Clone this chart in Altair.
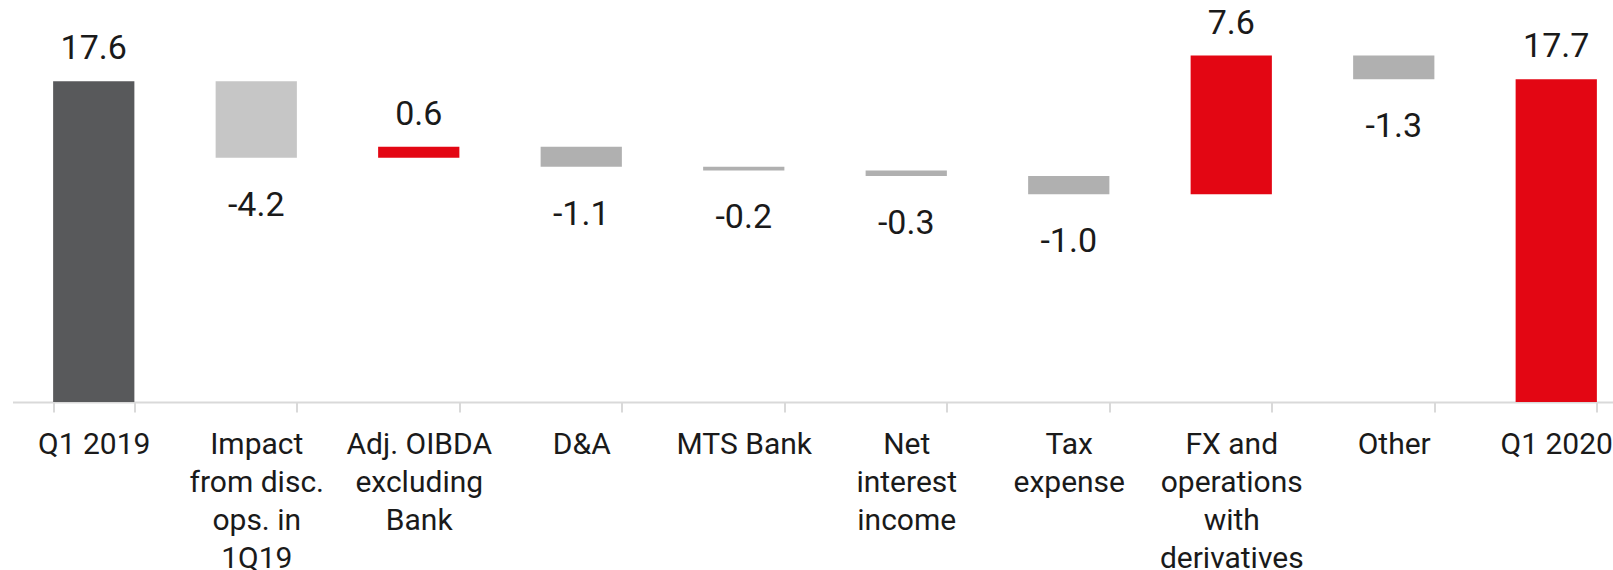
import altair as alt
import pandas as pd

# ---- data ----
categories = [
    "Q1 2019",
    "Impact|from disc.|ops. in|1Q19",
    "Adj. OIBDA|excluding|Bank",
    "D&A",
    "MTS Bank",
    "Net|interest|income",
    "Tax|expense",
    "FX and|operations|with|derivatives",
    "Other",
    "Q1 2020",
]
values = [17.6, -4.2, 0.6, -1.1, -0.2, -0.3, -1.0, 7.6, -1.3, 17.7]
kinds = ["start", "impact", "increase", "decrease", "decrease",
         "decrease", "decrease", "increase", "decrease", "end"]

# ---- waterfall geometry derived from the values ----
rows = []
running = 0.0
for cat, val, kind in zip(categories, values, kinds):
    if kind in ("start", "end"):
        start, end = 0.0, val
        running = val
    else:
        start, end = running, running + val
        running = end
    rows.append({"cat": cat, "value": val, "kind": kind,
                 "start": round(start, 3), "end": round(end, 3),
                 "label": f"{val:.1f}"})
df = pd.DataFrame(rows)

FONT = "Roboto"
TXT = "#1a1a1a"

x_enc = alt.X(
    "cat:N",
    sort=categories,
    scale=alt.Scale(range=[0, 1625], paddingInner=0.5, paddingOuter=0.25),
    axis=alt.Axis(
        title=None,
        labelAngle=0,
        labelExpr="split(datum.label, '|')",
        labelOverlap=False,
        labelBound=False,
        labelFlush=False,
        labelLimit=0,
    ),
)

base = alt.Chart(df).encode(x=x_enc)

bars = base.mark_bar().encode(
    y=alt.Y("start:Q", scale=alt.Scale(domain=[0, 22.05], nice=False, zero=True), axis=None),
    y2="end:Q",
    color=alt.Color(
        "kind:N",
        scale=alt.Scale(
            domain=["start", "impact", "increase", "decrease", "end"],
            range=["#58595b", "#c6c6c6", "#e30613", "#b0b0b0", "#e30613"],
        ),
        legend=None,
    ),
)

pos_text = base.transform_filter("datum.value > 0").mark_text(
    dy=-22, baseline="alphabetic", fontSize=34, font=FONT, color=TXT
).encode(y=alt.Y("end:Q"), text="label:N")

neg_text = base.transform_filter("datum.value < 0").mark_text(
    dy=58, baseline="alphabetic", fontSize=34, font=FONT, color=TXT
).encode(y=alt.Y("end:Q"), text="label:N")

chart = (
    alt.layer(bars, pos_text, neg_text)
    .properties(
        width=1600.5,
        height=402,
        autosize=alt.AutoSizeParams(type="none"),
        padding={"left": 12.5, "top": 0, "right": 0, "bottom": 168},
        background="white",
    )
    .configure_view(stroke=None)
    .configure_axis(
        domainColor="#d9d9d9",
        domainWidth=2,
        tickColor="#d9d9d9",
        tickWidth=2,
        tickSize=10,
        tickBand="extent",
        labelFont=FONT,
        labelFontSize=30,
        labelColor=TXT,
        labelPadding=17.5,
        labelBaseline="top",
        labelLineHeight=38,
        grid=False,
    )
)

chart.save("out.html", embed_options={"renderer": "svg", "actions": False})
